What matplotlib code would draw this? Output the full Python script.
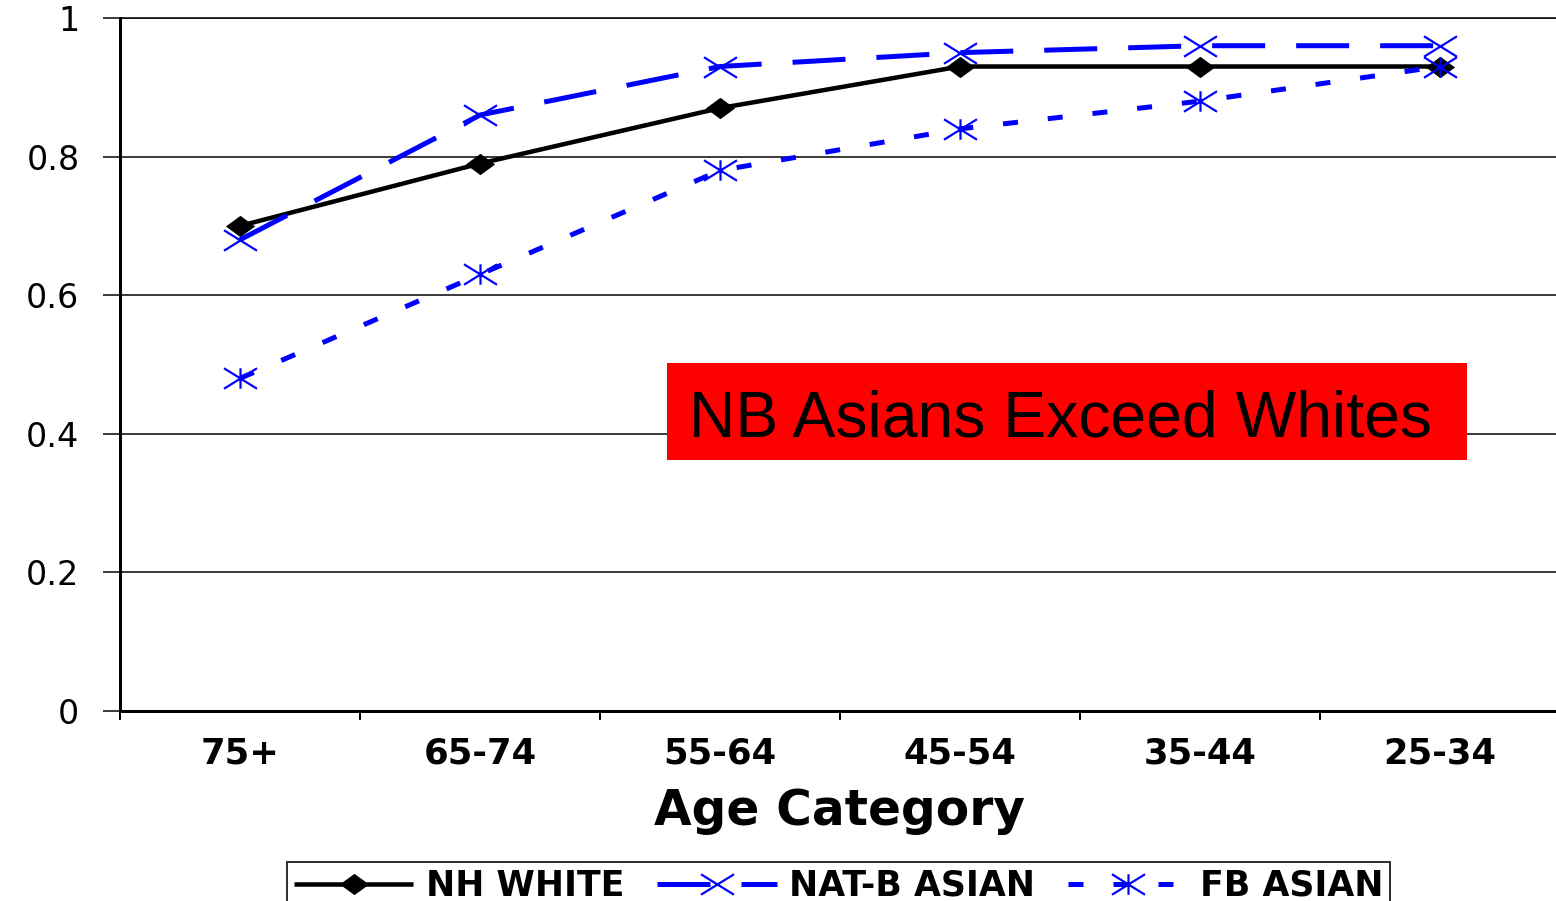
import matplotlib
matplotlib.use("Agg")
import matplotlib.pyplot as plt
from matplotlib.path import Path
from matplotlib.patches import Rectangle
from matplotlib.ticker import FixedLocator

# Share of each age group, by population
age_groups = ["75+", "65-74", "55-64", "45-54", "35-44", "25-34"]
nh_white = [0.70, 0.79, 0.87, 0.93, 0.93, 0.93]
natb_asian = [0.68, 0.86, 0.93, 0.95, 0.96, 0.96]
fb_asian = [0.48, 0.63, 0.78, 0.84, 0.88, 0.93]
series_names = ["NH WHITE", "NAT-B ASIAN", "FB ASIAN"]
y_ticks = [0, 0.2, 0.4, 0.6, 0.8, 1.0]
y_tick_labels = ["0", "0.2", "0.4", "0.6", "0.8", "1"]
x_title = "Age Category"
callout = "NB Asians Exceed Whites"

W, H, DPI = 1556, 901, 100
PX = 72 / DPI  # points per pixel

fig = plt.figure(figsize=(W / DPI, H / DPI), dpi=DPI)
fig.patch.set_facecolor("white")

left, right, top, bottom = 120, 1556, 18, 711
ax = fig.add_axes([left / W, 1 - bottom / H, (right - left) / W, (bottom - top) / H])

# Marker shapes: wide diamond, wide cross, and cross with a vertical bar
diamond = Path([(-1, 0), (0, 0.73), (1, 0), (0, -0.73), (-1, 0)],
               [Path.MOVETO, Path.LINETO, Path.LINETO, Path.LINETO, Path.CLOSEPOLY])
cross = Path([(-1, -0.62), (1, 0.62), (-1, 0.62), (1, -0.62)],
             [Path.MOVETO, Path.LINETO, Path.MOVETO, Path.LINETO])
star = Path([(-1, -0.62), (1, 0.62), (-1, 0.62), (1, -0.62), (0, -0.62), (0, 0.62)],
            [Path.MOVETO, Path.LINETO, Path.MOVETO, Path.LINETO, Path.MOVETO, Path.LINETO])

x = list(range(len(age_groups)))
blue = "#0000FF"
bpx = 5.0
blw = bpx * PX

l1, = ax.plot(x, nh_white, color="black", lw=4.5 * PX, marker=diamond,
              markersize=28 * PX, markerfacecolor="black", markeredgecolor="black",
              markeredgewidth=0.5, label=series_names[0], zorder=4, solid_capstyle="butt")
l2, = ax.plot(x, natb_asian, color=blue, lw=blw, marker=cross,
              markersize=33 * PX, markerfacecolor="none", markeredgecolor=blue,
              markeredgewidth=2.2 * PX, label=series_names[1], zorder=5,
              dashes=(53 / bpx, 31 / bpx), dash_capstyle="butt")
l3, = ax.plot(x, fb_asian, color=blue, lw=blw, marker=star,
              markersize=33 * PX, markerfacecolor="none", markeredgecolor=blue,
              markeredgewidth=2.2 * PX, label=series_names[2], zorder=6,
              dashes=(15 / bpx, 30 / bpx), dash_capstyle="butt")

ax.set_xlim(-0.5, (right - left) / 240 - 0.5)
ax.set_ylim(0, 1)

# Axes frame and grid
ax.spines["right"].set_visible(False)
ax.spines["top"].set_linewidth(1.5 * PX)
ax.spines["left"].set_linewidth(3 * PX)
ax.spines["bottom"].set_linewidth(3 * PX)
for s in ax.spines.values():
    s.set_color("black")

ax.set_yticks(y_ticks)
ax.set_yticklabels(y_tick_labels, fontfamily="DejaVu Sans", fontsize=24)
ax.yaxis.grid(True, color="black", linewidth=1.5 * PX)
ax.set_axisbelow(True)
ax.tick_params(axis="y", direction="out", length=17 * PX, width=1.5 * PX, pad=17)

ax.set_xticks(x)
ax.set_xticklabels(age_groups, fontfamily="DejaVu Sans", fontweight="bold", fontsize=25.5)
ax.tick_params(axis="x", which="major", length=0, pad=18)
ax.xaxis.set_minor_locator(FixedLocator([i + 0.5 for i in range(-1, len(age_groups) - 1)]))
ax.tick_params(axis="x", which="minor", direction="out", length=9 * PX, width=2 * PX)

fig.text(840 / W, 1 - 811 / H, x_title, ha="center", va="center",
         fontfamily="DejaVu Sans", fontweight="bold", fontsize=35)

# Red callout box
fig.patches.append(Rectangle((667 / W, 1 - 460 / H), 800 / W, 97 / H,
                             transform=fig.transFigure, facecolor="#FF0000",
                             edgecolor="none", zorder=10))
fig.text(689 / W, 1 - 436 / H, callout, ha="left", va="baseline",
         fontfamily="Liberation Sans", fontsize=46.3, color="black", zorder=11)

leg = fig.legend(handles=[l1, l2, l3], loc="upper center",
                 bbox_to_anchor=(838.5 / W, 1 - 862 / H), bbox_transform=fig.transFigure,
                 ncol=3, frameon=True, fancybox=False, edgecolor="black",
                 prop=dict(family="DejaVu Sans", weight="bold", size=25),
                 handlelength=3.45, handletextpad=0.35, columnspacing=0.95,
                 borderpad=0.2, borderaxespad=0)
leg.get_frame().set_linewidth(2 * PX)

fig.savefig("out.png", dpi=DPI)
